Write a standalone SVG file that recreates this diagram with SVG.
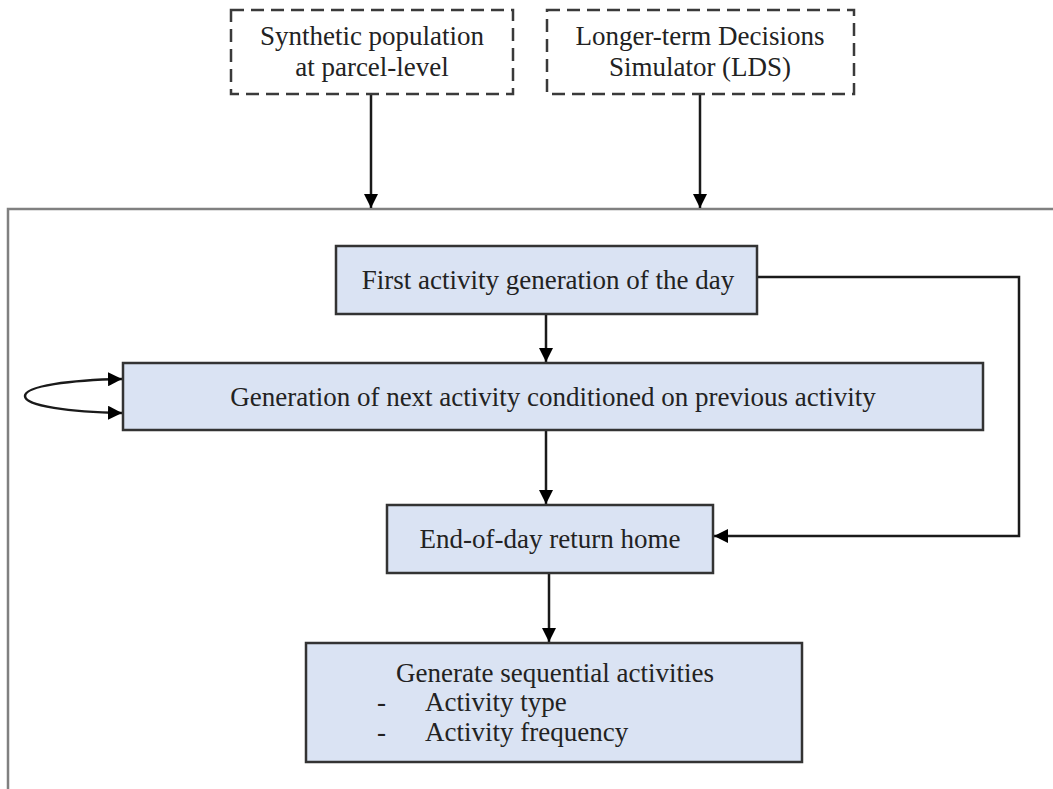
<svg xmlns="http://www.w3.org/2000/svg" width="1053" height="789" viewBox="0 0 1053 789">
  <style>
    .lbl { font-family: "Liberation Serif", "Times New Roman", serif; font-size: 27px; fill: #222222; }
    .mid { text-anchor: middle; }
    .input { fill: #ffffff; stroke: #3a3a3a; stroke-width: 2.5; stroke-dasharray: 13 7; }
    .step { fill: #dae3f3; stroke: #333333; stroke-width: 2.5; }
    .frame { fill: none; stroke: #808080; stroke-width: 2.5; }
    .edge { fill: none; stroke: #1a1a1a; stroke-width: 2.5; }
  </style>
  <defs>
    <marker id="arrow" viewBox="0 0 14 14" refX="14" refY="7" markerWidth="14" markerHeight="14" markerUnits="userSpaceOnUse" orient="auto">
      <path d="M0,0 L14,7 L0,14 Z" fill="#000000"/>
    </marker>
  </defs>

  <rect width="1053" height="789" fill="#ffffff"/>

  <!-- model boundary -->
  <path class="frame" d="M8,789 V209 H1053"/>

  <g id="connectors">
    <path class="edge" d="M371,94 V208" marker-end="url(#arrow)"/>
    <path class="edge" d="M700,94 V208" marker-end="url(#arrow)"/>
    <path class="edge" d="M546,314 V362" marker-end="url(#arrow)"/>
    <path class="edge" d="M546,430 V504" marker-end="url(#arrow)"/>
    <path class="edge" d="M549,573 V642" marker-end="url(#arrow)"/>
    <path class="edge" d="M757,277 H1019 V536 H714" marker-end="url(#arrow)"/>
    <path class="edge" d="M25,396 C25,386 70,380 122,379" marker-end="url(#arrow)"/>
    <path class="edge" d="M25,396 C25,406 70,412 122,413" marker-end="url(#arrow)"/>
  </g>

  <g id="synthetic-population">
    <rect class="input" x="231" y="10" width="282" height="84"/>
    <text class="lbl mid" x="372" y="45">Synthetic population</text>
    <text class="lbl mid" x="372" y="76">at parcel-level</text>
  </g>

  <g id="lds">
    <rect class="input" x="547" y="10" width="307" height="84"/>
    <text class="lbl mid" x="700" y="45">Longer-term Decisions</text>
    <text class="lbl mid" x="700" y="76">Simulator (LDS)</text>
  </g>

  <g id="first-activity">
    <rect class="step" x="336" y="246" width="421" height="68"/>
    <text class="lbl mid" x="548" y="289">First activity generation of the day</text>
  </g>

  <g id="next-activity">
    <rect class="step" x="123" y="363" width="860" height="67"/>
    <text class="lbl mid" x="553" y="406">Generation of next activity conditioned on previous activity</text>
  </g>

  <g id="return-home">
    <rect class="step" x="387" y="505" width="326" height="68"/>
    <text class="lbl mid" x="550" y="548">End-of-day return home</text>
  </g>

  <g id="sequential-activities">
    <rect class="step" x="306" y="643" width="496" height="119"/>
    <text class="lbl mid" x="555" y="682">Generate sequential activities</text>
    <text class="lbl" x="377" y="711">-</text>
    <text class="lbl" x="425" y="711">Activity type</text>
    <text class="lbl" x="377" y="741">-</text>
    <text class="lbl" x="425" y="741">Activity frequency</text>
  </g>
</svg>
